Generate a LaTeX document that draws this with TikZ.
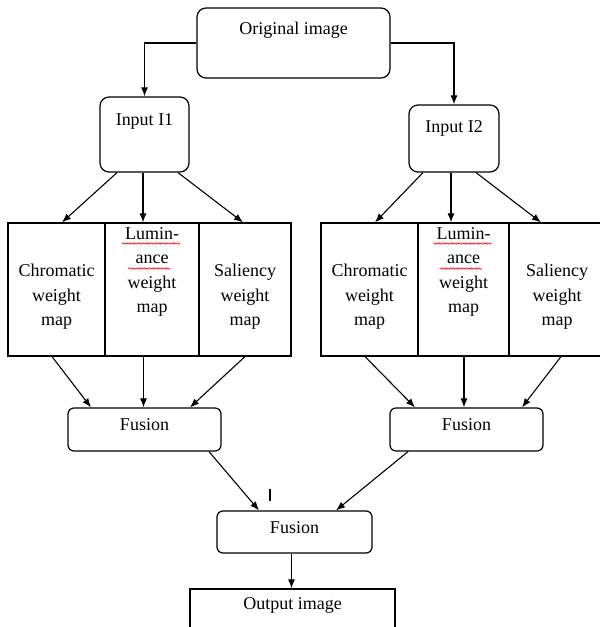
\documentclass[tikz,border=0pt]{standalone}
\usepackage{fontspec}
\setmainfont{Liberation Serif}
\usetikzlibrary{arrows.meta,calc,decorations.pathmorphing}
\begin{document}
\begin{tikzpicture}[x=1pt,y=-1pt,
  box/.style={draw,line width=1.2pt,inner sep=0pt},
  rbox/.style={box,rounded corners=9pt},
  fbox/.style={box,rounded corners=6pt},
  txt/.style={inner sep=0pt,align=center,font=\fontsize{18}{24.5}\selectfont},
  arr/.style={line width=1.1pt,-{Latex[length=9pt,width=7pt]}},
  wavy/.style={red,line width=0.6pt,decorate,decoration={snake,amplitude=0.7pt,segment length=2.6pt}}]
\useasboundingbox (0,0) rectangle (600,627);
\fill[white] (0,0) rectangle (600,627);
% boxes
\node[rbox,minimum width=193pt,minimum height=70pt] (orig) at (293.5,43) {};
\node[rbox,minimum width=89pt,minimum height=75pt] (in1) at (144.5,134.5) {};
\node[rbox,minimum width=90pt,minimum height=67pt] (in2) at (454,138.5) {};
\node[box,minimum width=97pt,minimum height=133pt] (chr1) at (56.5,289.5) {};
\node[box,minimum width=94pt,minimum height=133pt] (lum1) at (152,289.5) {};
\node[box,minimum width=92pt,minimum height=133pt] (sal1) at (245,289.5) {};
\node[box,minimum width=97pt,minimum height=133pt] (chr2) at (369.5,289.5) {};
\node[box,minimum width=91pt,minimum height=133pt] (lum2) at (463.5,289.5) {};
\node[box,minimum width=96pt,minimum height=133pt] (sal2) at (557,289.5) {};
\node[fbox,minimum width=153pt,minimum height=43pt] (fus1) at (144.5,429.5) {};
\node[fbox,minimum width=153pt,minimum height=43pt] (fus2) at (466.5,429.5) {};
\node[fbox,minimum width=155pt,minimum height=42pt] (fus3) at (294.5,532) {};
\node[box,minimum width=205pt,minimum height=60pt] (out) at (292.5,619) {};
% texts
\node[txt] (torig) at (293.5,30) {Original image};
\node[txt] (tin1) at (144.5,121) {Input I1};
\node[txt] (tin2) at (454,128) {Input I2};
\node[txt] (tchr1) at (56.5,297) {Chromatic\\weight\\map};
\node[txt] (tlum1) at (152,272) {Lumin-\\ance\\weight\\map};
\node[txt] (tsal1) at (245,297) {Saliency\\weight\\map};
\node[txt] (tchr2) at (369.5,297) {Chromatic\\weight\\map};
\node[txt] (tlum2) at (463.5,272) {Lumin-\\ance\\weight\\map};
\node[txt] (tsal2) at (557,297) {Saliency\\weight\\map};
\node[txt] (tfus1) at (144.5,425) {Fusion};
\node[txt] (tfus2) at (466.5,425) {Fusion};
\node[txt] (tfus3) at (294.5,528) {Fusion};
\node[txt] (tout) at (292.5,605) {Output image};
% spell-check underlines
\draw[wavy] ($(lum1.center)+(-30,-46)$) -- ($(lum1.center)+(28,-46)$);
\draw[wavy] ($(lum1.center)+(-24,-21)$) -- ($(lum1.center)+(18,-21)$);
\draw[wavy] ($(lum2.center)+(-30,-46)$) -- ($(lum2.center)+(28,-46)$);
\draw[wavy] ($(lum2.center)+(-24,-21)$) -- ($(lum2.center)+(18,-21)$);
% connectors
\draw[arr] (orig.west) -| (in1.north);
\draw[arr] (orig.east) -| (in2.north);
\draw[arr] ($(in1.south)+(-27.5,0)$) -- ($(chr1.north)+(5.5,0)$);
\draw[arr] ($(in1.south)+(-1.5,0)$) -- ($(lum1.north)+(-9,0)$);
\draw[arr] ($(in1.south)+(33.5,0)$) -- ($(sal1.north)+(-2,0)$);
\draw[arr] ($(in2.south)+(-31,0)$) -- ($(chr2.north)+(5.5,0)$);
\draw[arr] ($(in2.south)+(-3,0)$) -- ($(lum2.north)+(-12.5,0)$);
\draw[arr] ($(in2.south)+(22,0)$) -- ($(sal2.north)+(-16,0)$);
\draw[arr] ($(chr1.south)+(-4.5,0)$) -- ($(fus1.north)+(-53.5,0)$);
\draw[arr] ($(lum1.south)+(-8.5,0)$) -- ($(fus1.north)+(-1,0)$);
\draw[arr] (sal1.south) -- ($(fus1.north)+(45.5,0)$);
\draw[arr] ($(chr2.south)+(-4.5,0)$) -- ($(fus2.north)+(-51.5,0)$);
\draw[arr] ($(lum2.south)+(0.5,0)$) -- ($(fus2.north)+(-2.5,0)$);
\draw[arr] ($(sal2.south)+(4,0)$) -- ($(fus2.north)+(55.5,0)$);
\draw[arr] ($(fus1.south)+(64.5,0)$) -- ($(fus3.north)+(-35.5,0)$);
\draw[arr] ($(fus2.south)+(-58.5,0)$) -- ($(fus3.north)+(41.5,0)$);
\draw[arr] ($(fus3.south)+(-3,0)$) -- ($(out.north)+(-1,0)$);
% stray cursor mark
\coordinate (mk) at ($(fus3.north)+(-24.5,-21)$);
\draw[line width=2pt] (mk) -- ++(0,12);
\end{tikzpicture}
\end{document}
